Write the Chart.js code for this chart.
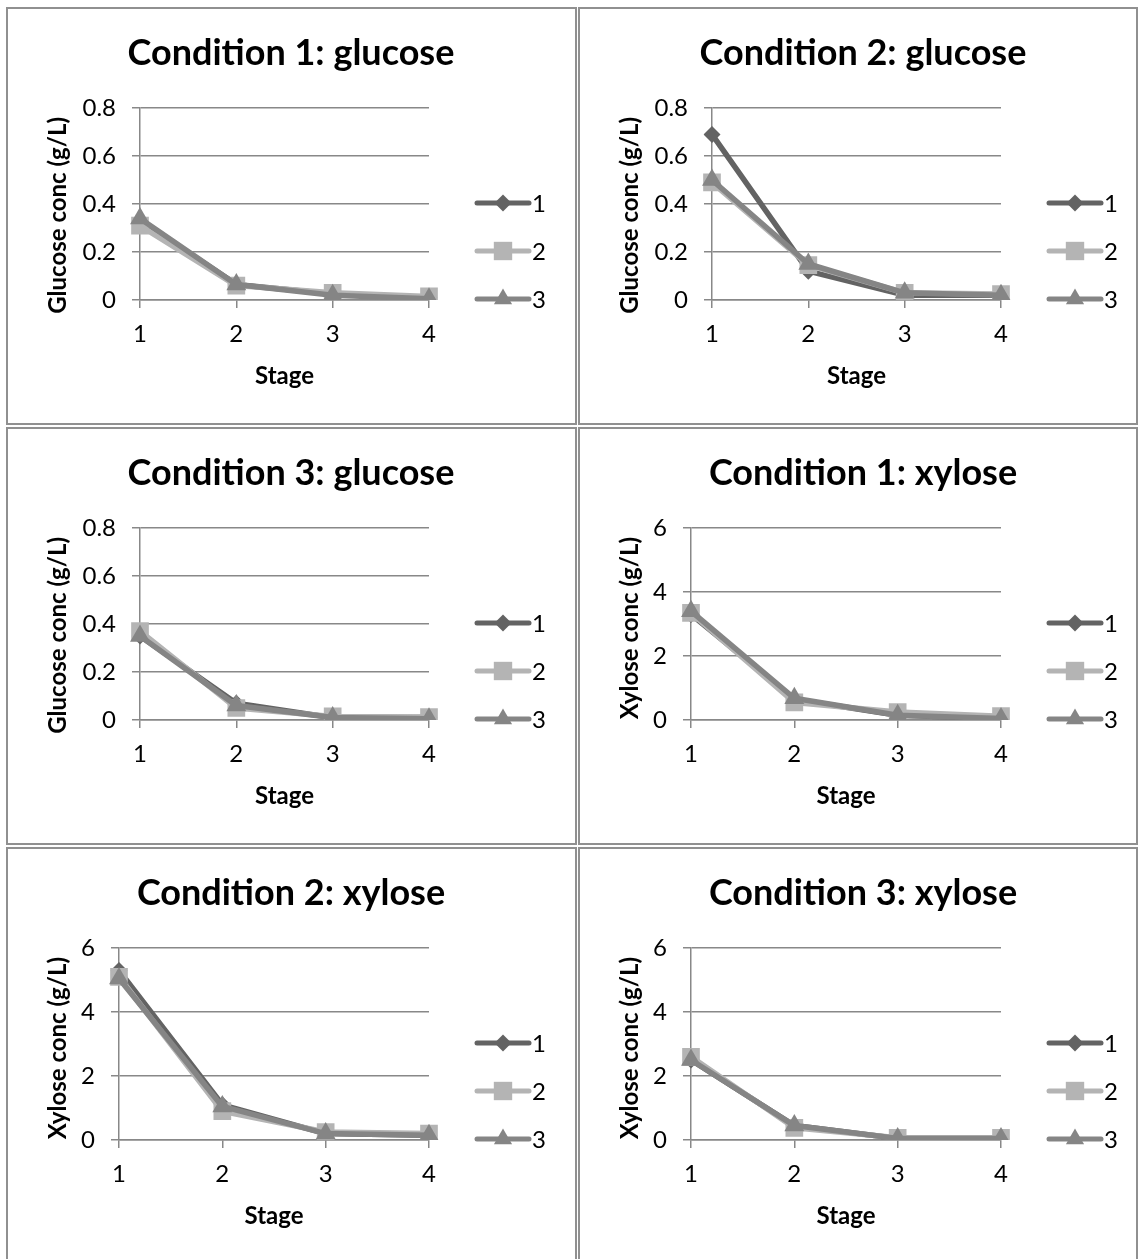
<!DOCTYPE html>
<html>
<head>
<meta charset="utf-8">
<script src="https://cdn.jsdelivr.net/npm/chart.js@4/dist/chart.umd.min.js"></script>
<style>
  body { margin: 0; background: #fff; }
  .panel { position: absolute; height: 418px; border: 2px solid #909090; box-sizing: border-box; background: #fff; }
  .panel canvas { display: block; }
</style>
</head>
<body>
<div class="panel" style="left:6px;top:7px;width:571px"><canvas id="c1" width="567" height="414"></canvas></div>
<div class="panel" style="left:578px;top:7px;width:560px"><canvas id="c2" width="556" height="414"></canvas></div>
<div class="panel" style="left:6px;top:427px;width:571px"><canvas id="c3" width="567" height="414"></canvas></div>
<div class="panel" style="left:578px;top:427px;width:560px"><canvas id="c4" width="556" height="414"></canvas></div>
<div class="panel" style="left:6px;top:847px;width:571px"><canvas id="c5" width="567" height="414"></canvas></div>
<div class="panel" style="left:578px;top:847px;width:560px"><canvas id="c6" width="556" height="414"></canvas></div>
<script>
// datos
const stages = ['1', '2', '3', '4'];
const seriesNames = ['1', '2', '3'];
const glucoseTicks = ['0', '0.2', '0.4', '0.6', '0.8'];
const xyloseTicks = ['0', '2', '4', '6'];

const glucose1_s1 = [0.33, 0.065, 0.025, 0.01];
const glucose1_s2 = [0.31, 0.06, 0.03, 0.015];
const glucose1_s3 = [0.34, 0.065, 0.02, 0.005];

const glucose2_s1 = [0.69, 0.12, 0.02, 0.02];
const glucose2_s2 = [0.49, 0.145, 0.03, 0.025];
const glucose2_s3 = [0.50, 0.15, 0.03, 0.02];

const glucose3_s1 = [0.35, 0.07, 0.01, 0.01];
const glucose3_s2 = [0.37, 0.05, 0.015, 0.012];
const glucose3_s3 = [0.35, 0.06, 0.01, 0.005];

const xylose1_s1 = [3.3, 0.65, 0.15, 0.05];
const xylose1_s2 = [3.35, 0.55, 0.25, 0.12];
const xylose1_s3 = [3.4, 0.68, 0.15, 0.05];

const xylose2_s1 = [5.3, 1.1, 0.2, 0.15];
const xylose2_s2 = [5.1, 0.9, 0.25, 0.2];
const xylose2_s3 = [5.05, 1.05, 0.2, 0.15];

const xylose3_s1 = [2.5, 0.45, 0.05, 0.05];
const xylose3_s2 = [2.6, 0.38, 0.07, 0.07];
const xylose3_s3 = [2.5, 0.45, 0.05, 0.05];

// estilos de las series
const seriesColors = ['#636363', '#b4b4b4', '#858585'];
const seriesStyles = ['rectRot', 'rect', 'triangle'];
const seriesRadius = [8.5, 12.5, 11.5];
const legendRadius = [8.5, 13, 10.5];
const gridColor = '#888888';
const fontFamily = 'Lato, "Open Sans", sans-serif';

// titulo, titulo del eje y y leyenda dibujados a mano
const panelDeco = {
  id: 'panelDeco',
  afterDraw(chart, args, opts) {
    const ctx = chart.ctx;
    ctx.save();
    ctx.fillStyle = '#000';
    ctx.font = 'bold 36px ' + fontFamily;
    ctx.textAlign = 'center';
    ctx.textBaseline = 'alphabetic';
    ctx.fillText(opts.title, 283, 56);

    ctx.save();
    ctx.translate(50, 108);
    ctx.rotate(-Math.PI / 2);
    ctx.font = 'bold 24px ' + fontFamily;
    ctx.textAlign = 'right';
    ctx.textBaseline = 'middle';
    ctx.fillText(opts.yTitle, 0, 0);
    ctx.restore();

    const rows = [194, 242, 290];
    chart.data.datasets.forEach((ds, i) => {
      const y = rows[i];
      ctx.strokeStyle = ds.borderColor;
      ctx.lineWidth = 5;
      ctx.lineCap = 'round';
      ctx.beginPath();
      ctx.moveTo(469, y);
      ctx.lineTo(521, y);
      ctx.stroke();
      ctx.fillStyle = ds.borderColor;
      Chart.helpers.drawPoint(ctx, { pointStyle: ds.pointStyle, radius: legendRadius[i], rotation: 0, borderWidth: 0 }, 495, y);
      ctx.fillStyle = '#000';
      ctx.font = '24px ' + fontFamily;
      ctx.textAlign = 'left';
      ctx.textBaseline = 'middle';
      ctx.fillText(ds.label, 524, y + 1);
    });
    ctx.restore();
  }
};

function makePanel(id, title, yTitle, yMax, yStep, yTicks, values, plotLeft) {
  const canvas = document.getElementById(id);
  const datasets = values.map((data, i) => ({
    label: seriesNames[i],
    data: data,
    borderColor: seriesColors[i],
    backgroundColor: seriesColors[i],
    borderWidth: 5.5,
    borderJoinStyle: 'round',
    borderCapStyle: 'round',
    pointStyle: seriesStyles[i],
    pointRadius: seriesRadius[i],
    pointBorderWidth: 0,
    pointBackgroundColor: seriesColors[i],
    tension: 0,
    order: 3 - i
  }));

  new Chart(canvas, {
    type: 'line',
    data: { labels: stages, datasets: datasets },
    plugins: [panelDeco],
    options: {
      responsive: false,
      animation: false,
      events: [],
      layout: { padding: { left: 0, top: 99, right: canvas.width - 421, bottom: 0 } },
      plugins: {
        legend: { display: false },
        tooltip: { enabled: false },
        title: { display: false },
        panelDeco: { title: title, yTitle: yTitle }
      },
      scales: {
        x: {
          type: 'category',
          offset: false,
          afterFit: s => { s.height = 123; },
          grid: { display: true, drawOnChartArea: false, drawTicks: true, tickLength: 8, color: gridColor, lineWidth: 1.5 },
          border: { display: true, color: gridColor, width: 1.5 },
          ticks: { color: '#000', font: { family: fontFamily, size: 24 }, padding: 12, maxRotation: 0, autoSkip: false },
          title: { display: true, text: 'Stage', color: '#000', font: { family: fontFamily, size: 24, weight: 'bold' }, padding: { top: 0, bottom: 32 } }
        },
        y: {
          min: 0,
          max: yMax,
          afterFit: s => { s.width = plotLeft; },
          grid: { color: gridColor, lineWidth: 1.5, tickLength: 8, drawTicks: true },
          border: { display: true, color: gridColor, width: 1.5 },
          ticks: {
            stepSize: yStep,
            color: '#000',
            font: { family: fontFamily, size: 24 },
            padding: 16,
            callback: (v, i) => yTicks[i]
          }
        }
      }
    }
  });
}

makePanel('c1', 'Condition 1: glucose', 'Glucose conc (g/L)', 0.8, 0.2, glucoseTicks, [glucose1_s1, glucose1_s2, glucose1_s3], 132);
makePanel('c2', 'Condition 2: glucose', 'Glucose conc (g/L)', 0.8, 0.2, glucoseTicks, [glucose2_s1, glucose2_s2, glucose2_s3], 132);
makePanel('c3', 'Condition 3: glucose', 'Glucose conc (g/L)', 0.8, 0.2, glucoseTicks, [glucose3_s1, glucose3_s2, glucose3_s3], 132);
makePanel('c4', 'Condition 1: xylose', 'Xylose conc (g/L)', 6, 2, xyloseTicks, [xylose1_s1, xylose1_s2, xylose1_s3], 111);
makePanel('c5', 'Condition 2: xylose', 'Xylose conc (g/L)', 6, 2, xyloseTicks, [xylose2_s1, xylose2_s2, xylose2_s3], 111);
makePanel('c6', 'Condition 3: xylose', 'Xylose conc (g/L)', 6, 2, xyloseTicks, [xylose3_s1, xylose3_s2, xylose3_s3], 111);
</script>
</body>
</html>
